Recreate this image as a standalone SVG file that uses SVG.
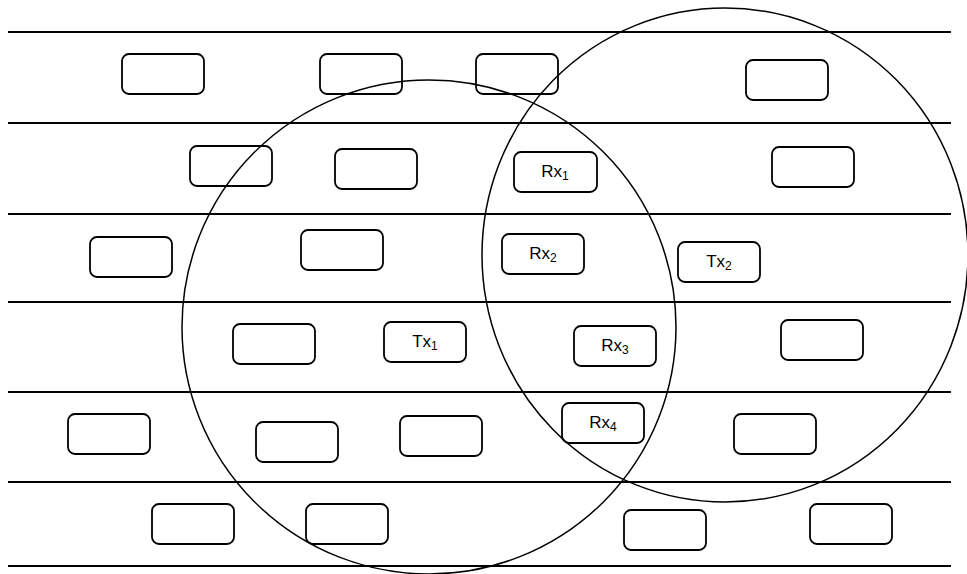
<svg xmlns="http://www.w3.org/2000/svg" width="967" height="574" viewBox="0 0 967 574">
<style>
.lane{stroke:#000;stroke-width:1.8;fill:none}
.range{stroke:#000;stroke-width:1.5;fill:none}
.box{stroke:#000;stroke-width:1.8;fill:none}
.lbl{font-family:"Liberation Sans",Arial,sans-serif;font-size:17px;fill:#000;text-anchor:middle}
.sub{font-size:12px}
</style>
<rect x="0" y="0" width="967" height="574" fill="#fff"/>
<g id="lanes">
<line class="lane" x1="8" y1="32" x2="951" y2="32"/>
<line class="lane" x1="8" y1="123" x2="951" y2="123"/>
<line class="lane" x1="8" y1="214" x2="951" y2="214"/>
<line class="lane" x1="8" y1="302" x2="951" y2="302"/>
<line class="lane" x1="8" y1="392" x2="951" y2="392"/>
<line class="lane" x1="8" y1="482" x2="951" y2="482"/>
<line class="lane" x1="8" y1="566" x2="951" y2="566"/>
</g>
<g id="ranges">
<ellipse id="range1" class="range" cx="429" cy="327" rx="247" ry="247"/>
<ellipse id="range2" class="range" cx="725" cy="255" rx="243" ry="247"/>
</g>
<g id="n1"><rect class="box" x="122" y="54" width="82" height="40" rx="7"/></g>
<g id="n2"><rect class="box" x="320" y="54" width="82" height="40" rx="7"/></g>
<g id="n3"><rect class="box" x="476" y="54" width="82" height="40" rx="7"/></g>
<g id="n4"><rect class="box" x="746" y="60" width="82" height="40" rx="7"/></g>
<g id="n5"><rect class="box" x="190" y="146" width="82" height="40" rx="7"/></g>
<g id="n6"><rect class="box" x="335" y="149" width="82" height="40" rx="7"/></g>
<g id="rx1"><rect class="box" x="514" y="152" width="83" height="40" rx="7"/><text class="lbl" x="555" y="177">Rx<tspan class="sub" dy="3">1</tspan></text></g>
<g id="n7"><rect class="box" x="772" y="147" width="82" height="40" rx="7"/></g>
<g id="n8"><rect class="box" x="90" y="237" width="82" height="40" rx="7"/></g>
<g id="n9"><rect class="box" x="301" y="230" width="82" height="40" rx="7"/></g>
<g id="rx2"><rect class="box" x="502" y="234" width="82" height="40" rx="7"/><text class="lbl" x="543" y="259">Rx<tspan class="sub" dy="3">2</tspan></text></g>
<g id="tx2"><rect class="box" x="678" y="242" width="82" height="40" rx="7"/><text class="lbl" x="719" y="267">Tx<tspan class="sub" dy="3">2</tspan></text></g>
<g id="n10"><rect class="box" x="233" y="324" width="82" height="40" rx="7"/></g>
<g id="tx1"><rect class="box" x="384" y="322" width="82" height="40" rx="7"/><text class="lbl" x="425" y="347">Tx<tspan class="sub" dy="3">1</tspan></text></g>
<g id="rx3"><rect class="box" x="574" y="326" width="82" height="40" rx="7"/><text class="lbl" x="615" y="351">Rx<tspan class="sub" dy="3">3</tspan></text></g>
<g id="n11"><rect class="box" x="781" y="320" width="82" height="40" rx="7"/></g>
<g id="n12"><rect class="box" x="68" y="414" width="82" height="40" rx="7"/></g>
<g id="n13"><rect class="box" x="256" y="422" width="82" height="40" rx="7"/></g>
<g id="n14"><rect class="box" x="400" y="416" width="82" height="40" rx="7"/></g>
<g id="rx4"><rect class="box" x="562" y="403" width="82" height="40" rx="7"/><text class="lbl" x="603" y="428">Rx<tspan class="sub" dy="3">4</tspan></text></g>
<g id="n15"><rect class="box" x="734" y="414" width="82" height="40" rx="7"/></g>
<g id="n16"><rect class="box" x="152" y="504" width="82" height="40" rx="7"/></g>
<g id="n17"><rect class="box" x="306" y="504" width="82" height="40" rx="7"/></g>
<g id="n18"><rect class="box" x="624" y="510" width="82" height="40" rx="7"/></g>
<g id="n19"><rect class="box" x="810" y="504" width="82" height="40" rx="7"/></g>
</svg>
